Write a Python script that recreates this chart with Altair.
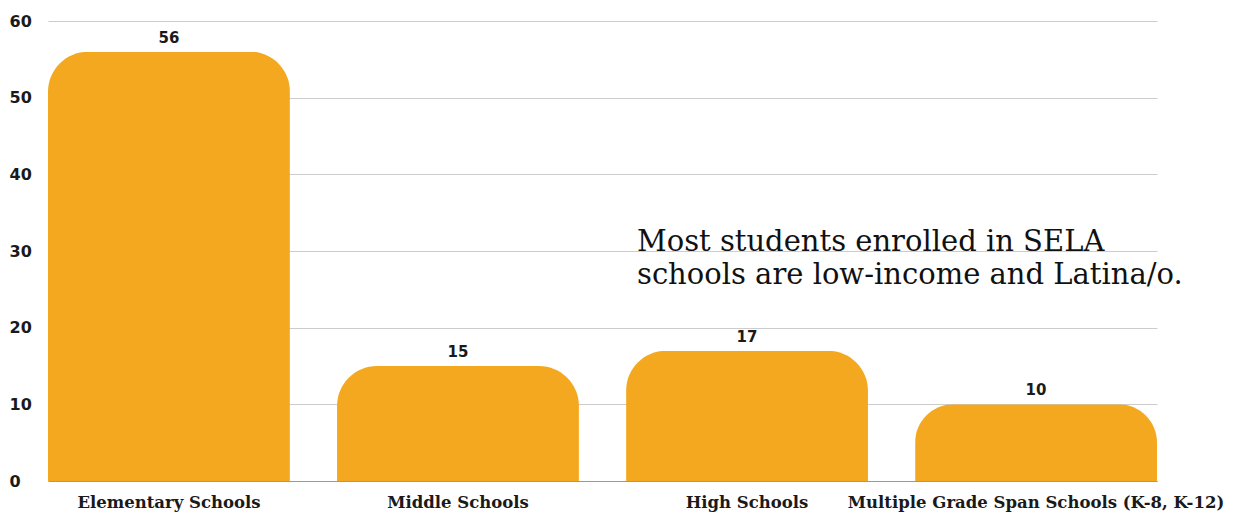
import altair as alt
import pandas as pd

categories = ["Elementary Schools", "Middle Schools", "High Schools",
              "Multiple Grade Span Schools (K-8, K-12)"]
values = [56, 15, 17, 10]
y_ticks = [0, 10, 20, 30, 40, 50, 60]
note_lines = ["Most students enrolled in SELA", "schools are low-income and Latina/o."]
note_y = [30.0]

df = pd.DataFrame({"cat": categories, "val": values})
note_df = pd.DataFrame({"text": [note_lines], "y": note_y})

BAR = "#F4A81F"

x_enc = alt.X("cat:N", sort=categories, title=None,
              scale=alt.Scale(paddingInner=0.163, paddingOuter=0),
              axis=alt.Axis(labelAngle=0, labelFont="DejaVu Serif", labelFontWeight="bold",
                            labelFontSize=16.5, labelColor="#1a1a1a", labelPadding=13,
                            labelBaseline="top", ticks=False, domain=True, domainColor="#999999",
                            labelOverlap=False, labelBound=False, labelLimit=0))
y_enc = alt.Y("val:Q", title=None, scale=alt.Scale(domain=[0, 60], nice=False),
              axis=alt.Axis(values=y_ticks, labelFont="DejaVu Sans", labelFontWeight="bold",
                            labelFontSize=16, labelColor="#1a1a1a", labelAlign="left",
                            labelPadding=39, tickSize=0, ticks=False, domain=False,
                            grid=True, gridColor="#cccccc", gridWidth=1))

bars = alt.Chart(df).mark_bar(color=BAR, cornerRadiusTopLeft=40,
                              cornerRadiusTopRight=40).encode(x=x_enc, y=y_enc)

labels = alt.Chart(df).mark_text(font="DejaVu Sans", fontWeight="bold", fontSize=15,
                                 color="#1a1a1a", baseline="alphabetic", dy=-9).encode(
    x=alt.X("cat:N", sort=categories), y=alt.Y("val:Q"), text=alt.Text("val:Q"))

note = alt.Chart(note_df).mark_text(font="DejaVu Serif", fontSize=29, color="#111111",
                                    align="left", baseline="alphabetic", lineHeight=33).encode(
    x=alt.value(589), y=alt.Y("y:Q"), text="text")

chart = alt.layer(bars, labels, note).properties(
    width=1109, height=460,
    background="white",
    autosize=alt.AutoSizeParams(type="none"),
    padding={"left": 40, "top": 13, "right": 72, "bottom": 33},
).configure_view(strokeWidth=0, stroke="transparent")

chart.save("out.html", embed_options={"renderer": "svg", "actions": False})
